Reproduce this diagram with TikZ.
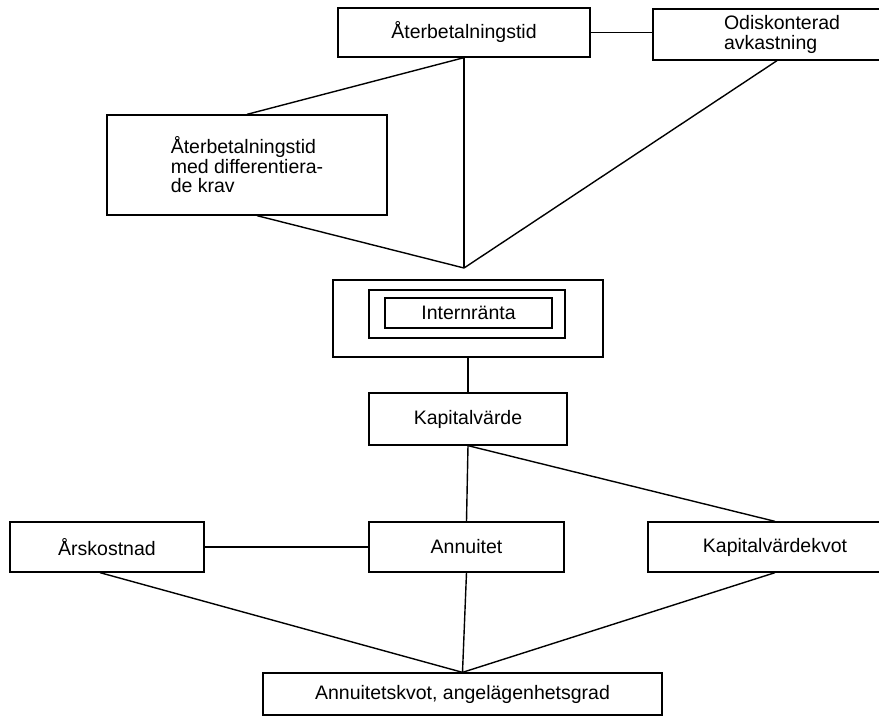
\documentclass[tikz,border=0pt]{standalone}
\usepackage{fontspec}
\setmainfont{Liberation Sans}
\usetikzlibrary{calc,positioning}

\begin{document}
\begin{tikzpicture}[x=1pt,y=-1pt,font=\fontsize{19.5}{19.5}\selectfont,
	box/.style={draw,line width=1.3pt,inner sep=0pt,align=center},
	link/.style={line width=1.4pt}]
\useasboundingbox (0,0) rectangle (879,717);
% top row
\node[box,minimum width=252,minimum height=49] (ater) at (464,32.5) {Återbetalningstid};
\node[box,minimum width=258,minimum height=51,align=left] (odisk) at (782,34.5) {Odiskonterad\\avkastning};
\node[box,minimum width=280,minimum height=100,align=left] (diff) at (247,165) {Återbetalningstid\\med differentiera-\\de krav};
\coordinate (meet) at (464,268);

% Internränta, three frames
\node[box,minimum width=270,minimum height=77] (irrout) at (468,318.5) {};
\node[box,minimum width=196,minimum height=48] (irrmid) at (467,314) {};
\node[box,minimum width=167,minimum height=30] (irr) at (468.5,313) {Internränta};

\node[box,minimum width=198,minimum height=52] (kap) at (468,419) {Kapitalvärde};

% bottom rows
\node[box,minimum width=194,minimum height=50] (ars) at (107,547) {Årskostnad};
\node[box,minimum width=195,minimum height=50] (ann) at (466.5,547) {Annuitet};
\node[box,minimum width=254,minimum height=50] (kvot) at (775,547) {Kapitalvärdekvot};
\node[box,minimum width=399,minimum height=42] (grad) at (462.5,694) {Annuitetskvot, angelägenhetsgrad};

\draw[link] (ater.east) -- (ater.east -| odisk.west);
\draw[link] (ater.south) -- (meet);
\draw[link] (ater.south) -- (diff.north);
\draw[link] ([xshift=10]diff.south) -- (meet);
\draw[link] ([xshift=-5]odisk.south) -- (meet);
\draw[link] (irrout.south -| kap.north) -- (kap.north);
\draw[link] (kap.south) -- (ann.north);
\draw[link] (kap.south) -- (kvot.north);
\draw[link] (ars.east) -- (ann.west);
\draw[link] ([xshift=-7]ars.south) -- (grad.north);
\draw[link] (ann.south) -- (grad.north);
\draw[link] (kvot.south) -- (grad.north);
\end{tikzpicture}
\end{document}
